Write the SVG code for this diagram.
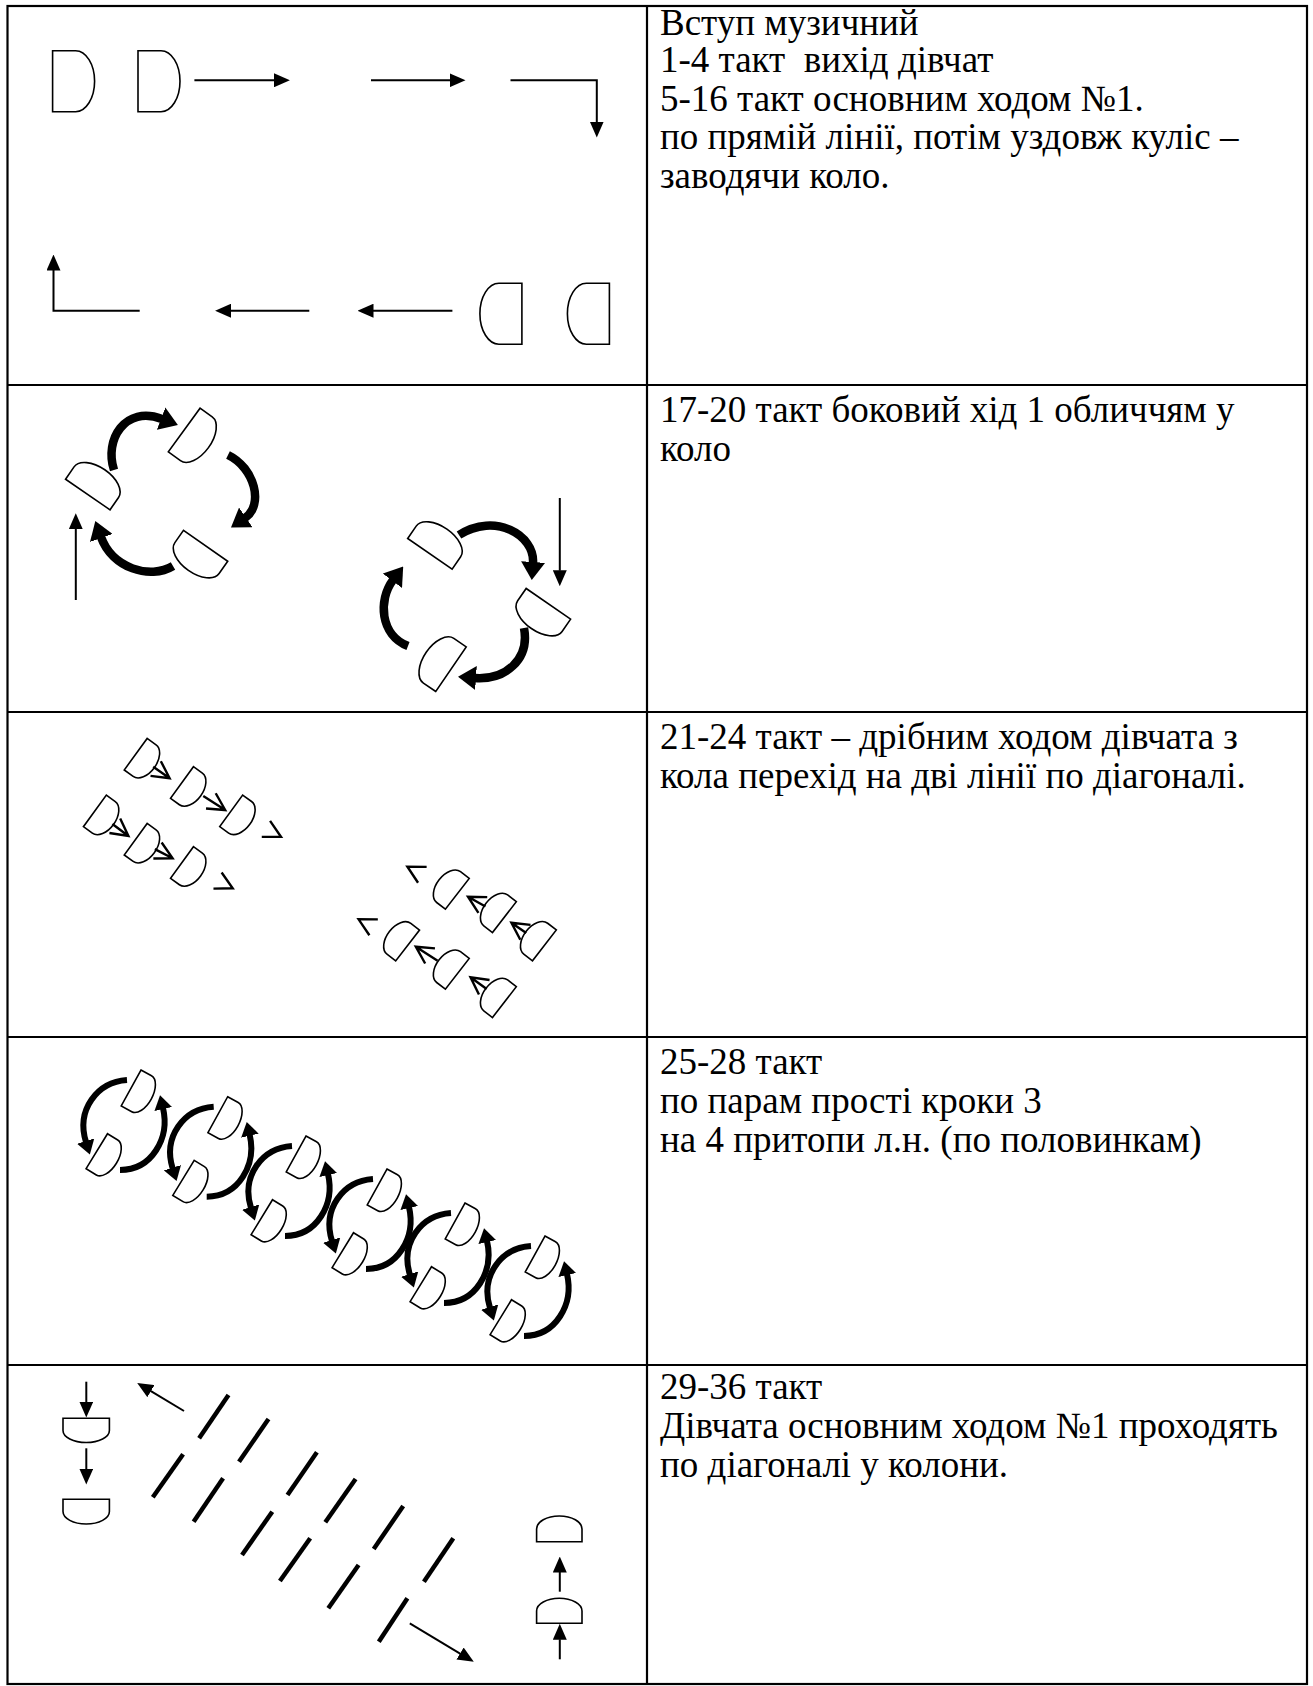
<svg xmlns="http://www.w3.org/2000/svg" xmlns:xlink="http://www.w3.org/1999/xlink" width="1313" height="1686" viewBox="0 0 1313 1686">
<style>
.grid{stroke:#000;stroke-width:2.2;fill:none}
.sh{fill:#fff;stroke:#000;stroke-width:1.6}
.ln{stroke:#000;stroke-width:2;fill:none}
.k2{stroke:#000;stroke-width:8.5;fill:none}
.k4{stroke:#000;stroke-width:6;fill:none}
.ch{stroke:#000;stroke-width:2.4;fill:none;stroke-linejoin:miter}
.dash{stroke:#000;stroke-width:4.5;fill:none}
.tx{font-family:"Liberation Serif","Times New Roman",serif;font-size:37px;fill:#000}
</style>
<defs>
<marker id="ah" viewBox="0 0 16 14" markerWidth="16" markerHeight="14" refX="0.5" refY="7" orient="auto" markerUnits="userSpaceOnUse"><path d="M0,0 L16,7 L0,14 Z" fill="#000"/></marker>
<marker id="thk" viewBox="0 0 18 24" markerWidth="18" markerHeight="24" refX="1" refY="12" orient="auto" markerUnits="userSpaceOnUse"><path d="M0,0 L18,12 L0,24 Z" fill="#000"/></marker>
<marker id="thk2" viewBox="0 0 14 18" markerWidth="14" markerHeight="18" refX="1" refY="9" orient="auto" markerUnits="userSpaceOnUse"><path d="M0,0 L14,9 L0,18 Z" fill="#000"/></marker>
<path id="dR1" d="M0,-30.5 H23 A19,30.5 0 0 1 23,30.5 H0 Z"/>
<path id="dR2" d="M0,-27 H15 A15,27 0 0 1 15,27 H0 Z"/>
<path id="dR3" d="M0,-19.5 H11 A12,19.5 0 0 1 11,19.5 H0 Z"/>
<path id="dR4" d="M0,-20.5 H12 A11,20.5 0 0 1 12,20.5 H0 Z"/>
</defs>
<rect x="0" y="0" width="1313" height="1686" fill="#fff"/>
<g id="table" class="grid">
<rect x="7.5" y="6" width="1299.5" height="1678"/>
<line x1="647" y1="6" x2="647" y2="1684"/>
<line x1="7.5" y1="385" x2="1307" y2="385"/>
<line x1="7.5" y1="712" x2="1307" y2="712"/>
<line x1="7.5" y1="1037" x2="1307" y2="1037"/>
<line x1="7.5" y1="1365" x2="1307" y2="1365"/>
</g>

<!-- Row 1 -->
<g id="row1-dancers" class="sh">
<use xlink:href="#dR1" transform="translate(52.6,81.2)"/>
<use xlink:href="#dR1" transform="translate(138,81.2)"/>
<use xlink:href="#dR1" transform="translate(521.9,313.7) scale(-1,1)"/>
<use xlink:href="#dR1" transform="translate(609.4,313.7) scale(-1,1)"/>
</g>
<g id="row1-connectors" class="ln">
<path d="M194.4,80.3 H274.4" marker-end="url(#ah)"/>
<path d="M371,80.3 H450" marker-end="url(#ah)"/>
<path d="M510.5,80.3 H596.8 V122" marker-end="url(#ah)"/>
<path d="M139.7,310.7 H53.5 V270" marker-end="url(#ah)"/>
<path d="M309.3,310.7 H230.6" marker-end="url(#ah)"/>
<path d="M452.4,310.7 H373" marker-end="url(#ah)"/>
</g>

<!-- Row 2 -->
<g id="row2-dancers" class="sh">
<use xlink:href="#dR2" transform="translate(184.2,430) rotate(36)"/>
<use xlink:href="#dR2" transform="translate(87.8,494.5) rotate(-55.5)"/>
<use xlink:href="#dR2" transform="translate(205.6,545.8) rotate(125)"/>
<use xlink:href="#dR2" transform="translate(429.9,553.8) rotate(-55.4)"/>
<use xlink:href="#dR2" transform="translate(548.4,603.8) rotate(124.6)"/>
<use xlink:href="#dR2" transform="translate(451,669.2) rotate(-145.7)"/>
</g>
<g id="row2-connectors">
<path class="k2" d="M114,470 C104,440 125,405 162,419" marker-end="url(#thk)"/>
<path class="k2" d="M228,455 C255,468 264,505 245,518" marker-end="url(#thk)"/>
<path class="k2" d="M173,566 C150,580 112,568 101,537" marker-end="url(#thk)"/>
<path class="k2" d="M459,535 C495,512 535,535 533,563" marker-end="url(#thk)"/>
<path class="k2" d="M524,628 C530,660 505,680 475,678" marker-end="url(#thk)"/>
<path class="k2" d="M408,646 C380,635 378,600 393,580" marker-end="url(#thk)"/>
<path class="ln" d="M75.8,600 V528.7" marker-end="url(#ah)"/>
<path class="ln" d="M559.8,498 V570.7" marker-end="url(#ah)"/>
</g>

<!-- Row 3 -->
<g id="row3-line1">
<use class="sh" xlink:href="#dR3" transform="translate(135.7,754.2) rotate(36)"/>
<path class="ch" d="M-20,0 H0 M-17,-9 L0,0 L-17,9" transform="translate(169.6,778.3) rotate(35)"/>
<use class="sh" xlink:href="#dR3" transform="translate(182,782.5) rotate(36)"/>
<path class="ch" d="M-26,0 H0 M-17,-9 L0,0 L-17,9" transform="translate(225.2,810) rotate(32.5)"/>
<use class="sh" xlink:href="#dR3" transform="translate(231.2,810.8) rotate(36)"/>
<path class="ch" d="M-17,-9 L0,0 L-17,9" transform="translate(281,836.7) rotate(27.5)"/>
</g>
<g id="row3-line2">
<use class="sh" xlink:href="#dR3" transform="translate(94.9,810.9) rotate(36)"/>
<path class="ch" d="M-20,0 H0 M-17,-9 L0,0 L-17,9" transform="translate(128.4,836) rotate(36.8)"/>
<use class="sh" xlink:href="#dR3" transform="translate(135.7,839.2) rotate(36)"/>
<path class="ch" d="M-20,0 H0 M-17,-9 L0,0 L-17,9" transform="translate(172.6,858.3) rotate(27.4)"/>
<use class="sh" xlink:href="#dR3" transform="translate(182,862.5) rotate(36)"/>
<path class="ch" d="M-17,-9 L0,0 L-17,9" transform="translate(232.7,888.3) rotate(27)"/>
</g>
<g id="row3-line3">
<use class="sh" xlink:href="#dR3" transform="translate(457.3,893.8) rotate(217.7)"/>
<path class="ch" d="M-17,-9 L0,0 L-17,9" transform="translate(407.4,866.7) rotate(208.5)"/>
<use class="sh" xlink:href="#dR3" transform="translate(504.4,917.1) rotate(217.7)"/>
<path class="ch" d="M-20,0 H0 M-17,-9 L0,0 L-17,9" transform="translate(468,896.7) rotate(209.3)"/>
<use class="sh" xlink:href="#dR3" transform="translate(544.4,945.4) rotate(217.7)"/>
<path class="ch" d="M-18,0 H0 M-17,-9 L0,0 L-17,9" transform="translate(511.4,922.7) rotate(214.5)"/>
</g>
<g id="row3-line4">
<use class="sh" xlink:href="#dR3" transform="translate(407.6,945.5) rotate(217.7)"/>
<path class="ch" d="M-17,-9 L0,0 L-17,9" transform="translate(358.6,919.3) rotate(208)"/>
<use class="sh" xlink:href="#dR3" transform="translate(457.3,973.8) rotate(217.7)"/>
<path class="ch" d="M-26,0 H0 M-17,-9 L0,0 L-17,9" transform="translate(415.8,946.7) rotate(213)"/>
<use class="sh" xlink:href="#dR3" transform="translate(504.4,1002.1) rotate(217.7)"/>
<path class="ch" d="M-20,0 H0 M-17,-9 L0,0 L-17,9" transform="translate(470.5,977.3) rotate(216)"/>
</g>

<!-- Row 4 -->
<defs>
<g id="pair">
<path class="k4" d="M127,1080 C97,1082 76,1110 86,1142" marker-end="url(#thk2)"/>
<path class="k4" d="M120,1170 C152,1170 170,1138 163,1108" marker-end="url(#thk2)"/>
<use class="sh" xlink:href="#dR4" transform="translate(131.1,1088) rotate(28.8)"/>
<use class="sh" xlink:href="#dR4" transform="translate(96.8,1151.2) rotate(31.5)"/>
</g>
</defs>
<g id="pair1"><use xlink:href="#pair"/></g>
<g id="pair2"><use xlink:href="#pair" transform="translate(86.7,26.7)"/></g>
<g id="pair3"><use xlink:href="#pair" transform="translate(165,66)"/></g>
<g id="pair4"><use xlink:href="#pair" transform="translate(246,99)"/></g>
<g id="pair5"><use xlink:href="#pair" transform="translate(324,133)"/></g>
<g id="pair6"><use xlink:href="#pair" transform="translate(404,166)"/></g>

<!-- Row 5 -->
<g id="row5-left" class="sh">
<path d="M63,1418.3 H109.4 V1430.5 A23.2,12 0 0 1 63,1430.5 Z"/>
<path d="M63,1499.3 H109.4 V1511.5 A23.2,12.5 0 0 1 63,1511.5 Z"/>
</g>
<g id="row5-right" class="sh">
<path d="M536.6,1541.7 H582 V1529 A22.7,13 0 0 0 536.6,1529 Z"/>
<path d="M536.6,1623.3 H582 V1611 A22.7,12.7 0 0 0 536.6,1611 Z"/>
</g>
<g id="row5-lines" class="dash">
<line x1="199.1" y1="1438.3" x2="228.5" y2="1395"/>
<line x1="239" y1="1461.7" x2="268.5" y2="1419"/>
<line x1="287.5" y1="1495" x2="316.9" y2="1452.3"/>
<line x1="325.3" y1="1522.3" x2="355.6" y2="1479"/>
<line x1="373.7" y1="1549" x2="403.2" y2="1506"/>
<line x1="423.9" y1="1581.7" x2="453.3" y2="1538.3"/>
<line x1="152.8" y1="1497.3" x2="183.1" y2="1454.3"/>
<line x1="193.6" y1="1521.7" x2="223.1" y2="1478.3"/>
<line x1="242" y1="1555" x2="272.3" y2="1511.7"/>
<line x1="279.9" y1="1581" x2="310.2" y2="1538.3"/>
<line x1="328.3" y1="1608.3" x2="358.6" y2="1565"/>
<line x1="378.8" y1="1641.7" x2="407.4" y2="1598.3"/>
</g>
<g id="row5-connectors" class="ln">
<path d="M86.3,1381.7 V1402" marker-end="url(#ah)"/>
<path d="M86.3,1448.3 V1469" marker-end="url(#ah)"/>
<path d="M559.8,1591.7 V1572" marker-end="url(#ah)"/>
<path d="M559.8,1659.3 V1639.3" marker-end="url(#ah)"/>
<path d="M184,1411 L150.5,1390.9" marker-end="url(#ah)"/>
<path d="M409.8,1623.3 L460.5,1653.8" marker-end="url(#ah)"/>
</g>

<!-- Texts -->
<g id="text1" class="tx">
<text x="660" y="35">Вступ музичний</text>
<text x="660" y="72" style="white-space:pre">1-4 такт  вихід дівчат</text>
<text x="660" y="110.5">5-16 такт основним ходом №1.</text>
<text x="660" y="149">по прямій лінії, потім уздовж куліс –</text>
<text x="660" y="187.5">заводячи коло.</text>
</g>
<g id="text2" class="tx">
<text x="660" y="421.5">17-20 такт боковий хід 1 обличчям у</text>
<text x="660" y="460.5">коло</text>
</g>
<g id="text3" class="tx">
<text x="660" y="748.5">21-24 такт – дрібним ходом дівчата з</text>
<text x="660" y="787.5">кола перехід на дві лінії по діагоналі.</text>
</g>
<g id="text4" class="tx">
<text x="660" y="1073.5">25-28 такт</text>
<text x="660" y="1112.5">по парам прості кроки 3</text>
<text x="660" y="1151.5">на 4 притопи л.н. (по половинкам)</text>
</g>
<g id="text5" class="tx">
<text x="660" y="1398.5">29-36 такт</text>
<text x="660" y="1437.5">Дівчата основним ходом №1 проходять</text>
<text x="660" y="1476.5">по діагоналі у колони.</text>
</g>
</svg>
